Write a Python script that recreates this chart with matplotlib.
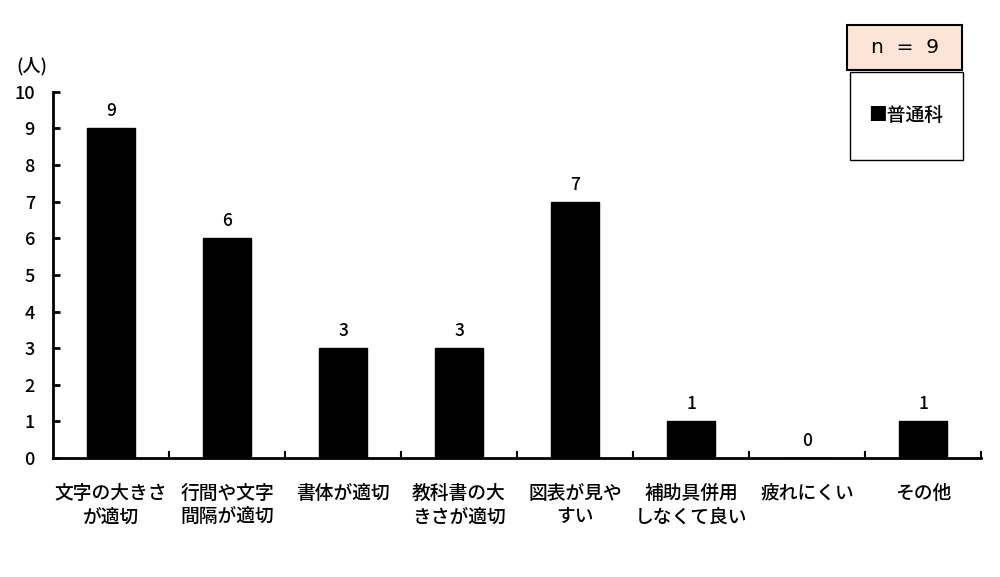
import matplotlib
matplotlib.use("Agg")
import matplotlib.pyplot as plt
from matplotlib.patches import Rectangle

plt.rcParams['font.family'] = ['Noto Sans CJK JP', 'DejaVu Sans']
plt.rcParams['font.weight'] = 'medium'

categories = ["文字の大きさ\nが適切", "行間や文字\n間隔が適切", "書体が適切", "教科書の大\nきさが適切",
              "図表が見や\nすい", "補助具併用\nしなくて良い", "疲れにくい", "その他"]
values = [9, 6, 3, 3, 7, 1, 0, 1]
series_name = "普通科"
n_label = "n  =  9"

fig = plt.figure(figsize=(10, 5.77), dpi=100)
ax = fig.add_axes([0.053, 0.206, 0.928, 0.635])

x = list(range(len(categories)))
ax.bar(x, values, width=0.41, color="black", edgecolor="black")
for xi, v in zip(x, values):
    ax.text(xi, v + 0.22, str(v), ha="center", va="bottom", fontsize=12.5)

ax.set_xlim(-0.5, len(categories) - 0.5)
ax.set_ylim(0, 10)
ax.set_yticks(range(0, 11))
ax.tick_params(axis="y", direction="in", length=5, width=2, labelsize=13, pad=13)
ax.set_xticks([i + 0.5 for i in range(len(categories))])
ax.set_xticklabels([])
ax.tick_params(axis="x", direction="in", length=5, width=1.5)
for i, lab in enumerate(categories):
    ax.text(i, -0.7, lab, ha="center", va="top", fontsize=13.5, linespacing=1.3)

for s in ["top", "right"]:
    ax.spines[s].set_visible(False)
ax.spines["left"].set_linewidth(2)
ax.spines["bottom"].set_linewidth(2)

fig.text(0.016, 0.885, "(人)", fontsize=13, ha="left", va="center")

# legend boxes
fig.patches.append(Rectangle((0.850, 0.723), 0.113, 0.152, transform=fig.transFigure,
                             facecolor="white", edgecolor="black", linewidth=1))
fig.patches.append(Rectangle((0.847, 0.879), 0.115, 0.078, transform=fig.transFigure,
                             facecolor="#FCE4D6", edgecolor="black", linewidth=1.5))
fig.text(0.905, 0.918, n_label, fontsize=14.5, ha="center", va="center", family="DejaVu Sans", fontweight="normal")
fig.text(0.906, 0.799, "■" + series_name, fontsize=13.5, ha="center", va="center")

fig.savefig("out.png", dpi=100)
